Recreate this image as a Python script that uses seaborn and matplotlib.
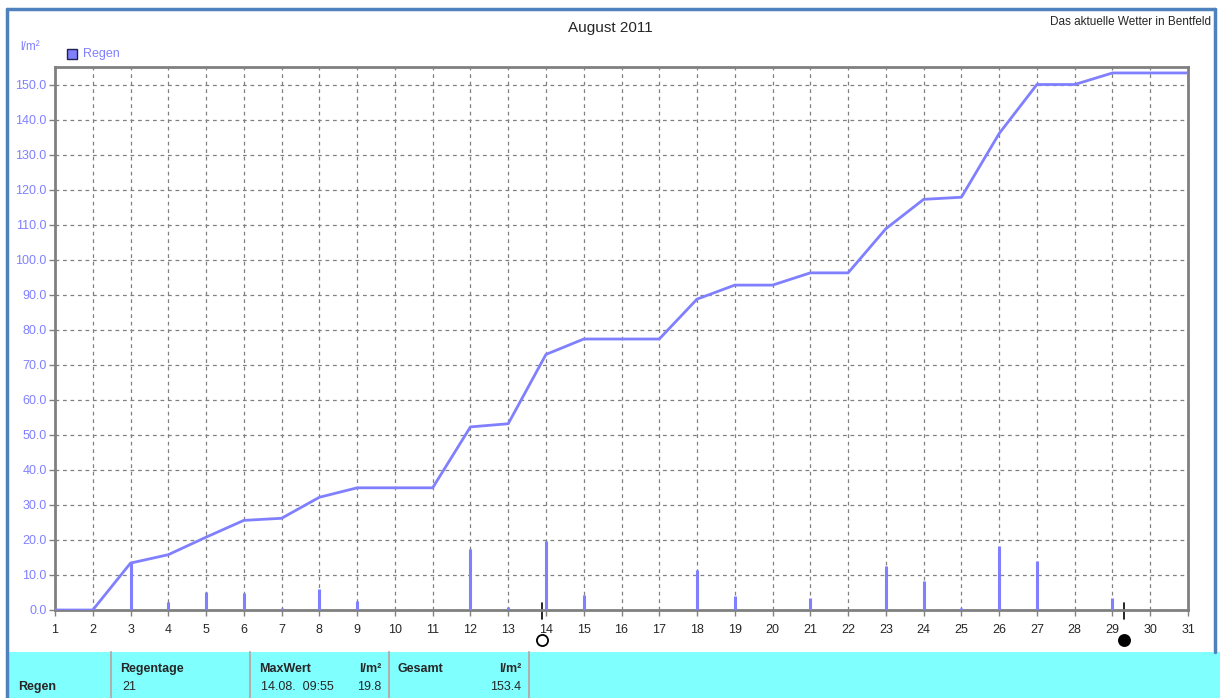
import numpy as np
import pandas as pd
import matplotlib
matplotlib.use("Agg")
import matplotlib.pyplot as plt
import seaborn as sns
from matplotlib.patches import Rectangle, Patch
from matplotlib.lines import Line2D
import matplotlib.transforms as mtransforms

# daily rain in l/m² for August 2011
days = list(range(1, 32))
regen = [0, 0, 13.4, 2.4, 5.0, 4.8, 0.6, 6.0, 2.7, 0, 0, 17.4, 0.9, 19.8, 4.4, 0,
         0, 11.4, 4.0, 0, 3.5, 0, 12.6, 8.4, 0.6, 18.2, 14.0, 0, 3.3, 0, 0]
y_ticks = list(range(0, 151, 10))
moon_days = [13.9, 29.3]      # full moon / new moon
moon_fill = ["white", "black"]

table_head = ["Regentage", "MaxWert", "Gesamt"]
table_vals = ["21", "14.08.  09:55", ""]
max_wert = "19.8"
gesamt = "153.4"

df = pd.DataFrame({"Tag": days, "Regen": regen})
df["Summe"] = df["Regen"].cumsum()

sns.set_style("white")
plt.rcParams["font.family"] = ["Liberation Sans", "DejaVu Sans"]

W, H = 1220, 698
fig = plt.figure(figsize=(W / 100, H / 100), dpi=100)
fx = lambda px: px / W
fy = lambda py: 1 - py / H

ax = fig.add_axes([fx(55), fy(610), fx(1188) - fx(55), fy(67) - fy(610)])
blue = "#8080ff"

sns.lineplot(data=df, x="Tag", y="Summe", ax=ax, color=blue, linewidth=2, zorder=4)
ax.vlines(df["Tag"], 0, df["Regen"], color=blue, linewidth=2.2, zorder=3)

ax.set_xlim(1, 31)
ax.set_ylim(0, 155.1)
ax.set_xticks(days)
ax.set_yticks(y_ticks)
ax.set_yticklabels([f"{v:.1f}" for v in y_ticks], color=blue, fontsize=9)
ax.set_xticklabels([str(d) for d in days], fontsize=9)
ax.set_xlabel("")
ax.set_ylabel("")
ax.tick_params(axis="both", direction="out", length=4, width=1, color="#808080",
               bottom=True, left=True)
ax.tick_params(axis="x", pad=6)
ax.tick_params(axis="y", pad=2)
ax.set_axisbelow(True)
ax.grid(True, color="#808080", linestyle=(0, (3, 3)), linewidth=0.9)
for s in ax.spines.values():
    s.set_color("#808080")
    s.set_linewidth(2)

# moon phases below the axis
trans = mtransforms.blended_transform_factory(ax.transData, ax.transAxes)
for d, fc in zip(moon_days, moon_fill):
    ax.add_line(Line2D([d, d], [0.013, -0.016], color="black", linewidth=1.2,
                       transform=trans, clip_on=False))
    ax.plot([d], [-0.056], marker="o", markersize=8, markerfacecolor=fc,
            markeredgecolor="black", markeredgewidth=1.3, transform=trans, clip_on=False)

# title and labels
fig.text(0.5, fy(28), "August 2011", ha="center", va="center", fontsize=11)
fig.text(fx(1211), fy(22), "Das aktuelle Wetter in Bentfeld", ha="right", va="center", fontsize=8.5)
fig.text(fx(20), fy(47), "l/m²", ha="left", va="center", fontsize=8.5, color=blue)
fig.patches.append(Rectangle((fx(67), fy(59)), fx(10), 10 / H, facecolor=blue,
                             edgecolor="#202050", linewidth=1, transform=fig.transFigure))
fig.text(fx(83), fy(54), "Regen", ha="left", va="center", fontsize=9, color=blue)

# frame around the picture
fig.add_artist(Line2D([fx(7), fx(7)], [0, fy(9)], color="#4f81bd", linewidth=2.5))
fig.add_artist(Line2D([fx(7), fx(1215)], [fy(9), fy(9)], color="#4f81bd", linewidth=2.5))
fig.add_artist(Line2D([fx(1215), fx(1215)], [fy(652), fy(9)], color="#4f81bd", linewidth=2.5))

# summary table
fig.patches.append(Rectangle((fx(8), 0), 1, fy(652), facecolor="#80ffff",
                             edgecolor="none", transform=fig.transFigure))
for sx in [111, 250, 389, 529]:
    fig.add_artist(Line2D([fx(sx), fx(sx)], [0, fy(652)], color="#b0b0b0", linewidth=1.5))
fig.text(fx(18), fy(687), "Regen", ha="left", va="center", fontsize=9, fontweight="bold")
for x0, head, val in zip([120, 259, 398], table_head, table_vals):
    fig.text(fx(x0), fy(669), head, ha="left", va="center", fontsize=9, fontweight="bold")
    fig.text(fx(x0 + 2), fy(687), val, ha="left", va="center", fontsize=9)
for xr, val in zip([381, 521], [max_wert, gesamt]):
    fig.text(fx(xr), fy(669), "l/m²", ha="right", va="center", fontsize=9, fontweight="bold")
    fig.text(fx(xr), fy(687), val, ha="right", va="center", fontsize=9)

fig.savefig("out.png", dpi=100)
